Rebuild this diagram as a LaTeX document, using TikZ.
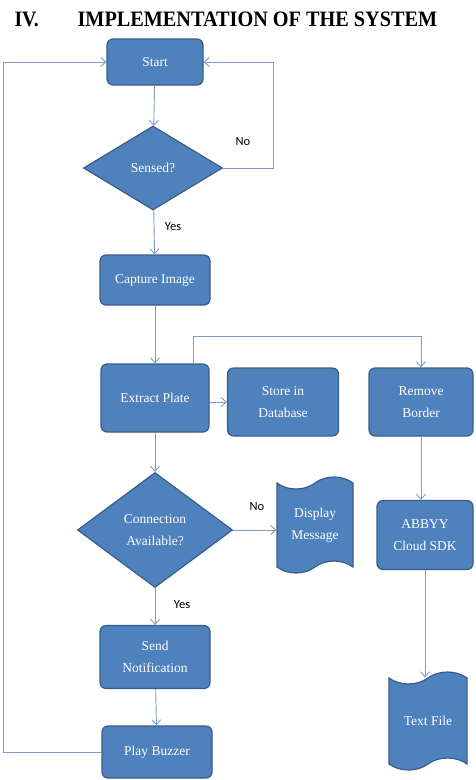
\documentclass[tikz,border=0pt]{standalone}
\usepackage{fontspec}
\setmainfont{Liberation Serif}
\newfontfamily\lblfont{Carlito}
\usetikzlibrary{shapes.geometric,shapes.symbols,arrows.meta}
\definecolor{boxblue}{RGB}{79,129,189}
\definecolor{boxedge}{RGB}{56,93,138}
\definecolor{flowline}{RGB}{125,155,205}
\begin{document}
\begin{tikzpicture}[x=1pt,y=-1pt,font=\fontsize{13.5}{22}\selectfont,
	proc/.style={draw=boxedge,line width=1.2pt,fill=boxblue,rounded corners=6pt,text=white,align=center,inner sep=2pt},
	decide/.style={diamond,draw=boxedge,line width=1.2pt,fill=boxblue,text=white,align=center,inner sep=0pt},
	doc/.style={tape,tape bend top=in and out,tape bend bottom=in and out,tape bend height=12pt,draw=boxedge,line width=1.2pt,fill=boxblue,text=white,align=center,inner sep=2pt},
	flow/.style={draw=flowline,line width=0.9pt},
	arr/.style={flow,-{Straight Barb[length=5pt,width=9pt]}},
	lbl/.style={font=\lblfont\fontsize{12.5}{12.5}\selectfont,text=black}]
	\useasboundingbox (0,0) rectangle (476,780);
	% title
	\node[anchor=west,font=\bfseries\fontsize{22}{22}\selectfont] (num) at (11,19) {\scalebox{0.9}[1]{IV.}};
	\node[anchor=west,font=\bfseries\fontsize{22}{22}\selectfont] (title) at (74,19) {\scalebox{0.92}[1]{IMPLEMENTATION OF THE SYSTEM}};
	% main column
	\node[proc,minimum width=96pt,minimum height=46pt] (start) at (155,62) {Start};
	\node[decide,minimum width=139pt,minimum height=84pt] (sensed) at (153,168) {Sensed?};
	\node[proc,minimum width=110pt,minimum height=50pt] (capture) at (155,280) {Capture Image};
	\node[proc,minimum width=108pt,minimum height=68pt] (extract) at (155,398) {Extract Plate};
	\node[proc,minimum width=111pt,minimum height=68pt] (store) at (283,402) {Store in\\Database};
	\node[proc,minimum width=104pt,minimum height=68pt] (remove) at (421,402) {Remove\\Border};
	\node[decide,minimum width=155pt,minimum height=115pt] (conn) at (155,530) {Connection\\Available?};
	\node[doc,minimum width=76pt,minimum height=96pt] (display) at (315,525) {Display\\Message};
	\node[proc,minimum width=96pt,minimum height=69pt] (abbyy) at (425,535) {ABBYY\\Cloud SDK};
	\node[proc,minimum width=110pt,minimum height=63pt] (notify) at (155,657) {Send\\Notification};
	\node[proc,minimum width=110pt,minimum height=52pt] (buzzer) at (157,752) {Play Buzzer};
	\node[doc,minimum width=78pt,minimum height=98pt] (textfile) at (428,721) {Text File};
	% connectors
	\draw[arr] (start) -- (sensed);
	\draw[arr] (sensed.east) -- ++(50,0) |- (start.east);
	\node[lbl] (no1) at (243,142) {No};
	\draw[arr] (sensed) -- (capture);
	\node[lbl] (yes1) at (173,227) {Yes};
	\draw[arr] (capture) -- (extract);
	\draw[arr] (extract.east |- store.west) -- (store.west);
	\draw[arr] ([xshift=-16pt]extract.north east) -- ++(0,-27) -| (remove.north);
	\draw[arr] (extract) -- (conn);
	\draw[arr] (conn.east) -- (display.west |- conn.east);
	\node[lbl] (no2) at (257,507) {No};
	\draw[arr] (conn) -- (notify);
	\node[lbl] (yes2) at (182,605) {Yes};
	\draw[arr] (notify) -- (buzzer);
	\draw[arr] (buzzer.west) -- ++(-98,0) |- (start.west);
	\draw[arr] (remove.south) -- (remove.south |- abbyy.north);
	\draw[arr] (abbyy.south) -- (abbyy.south |- textfile.north);
\end{tikzpicture}
\end{document}
